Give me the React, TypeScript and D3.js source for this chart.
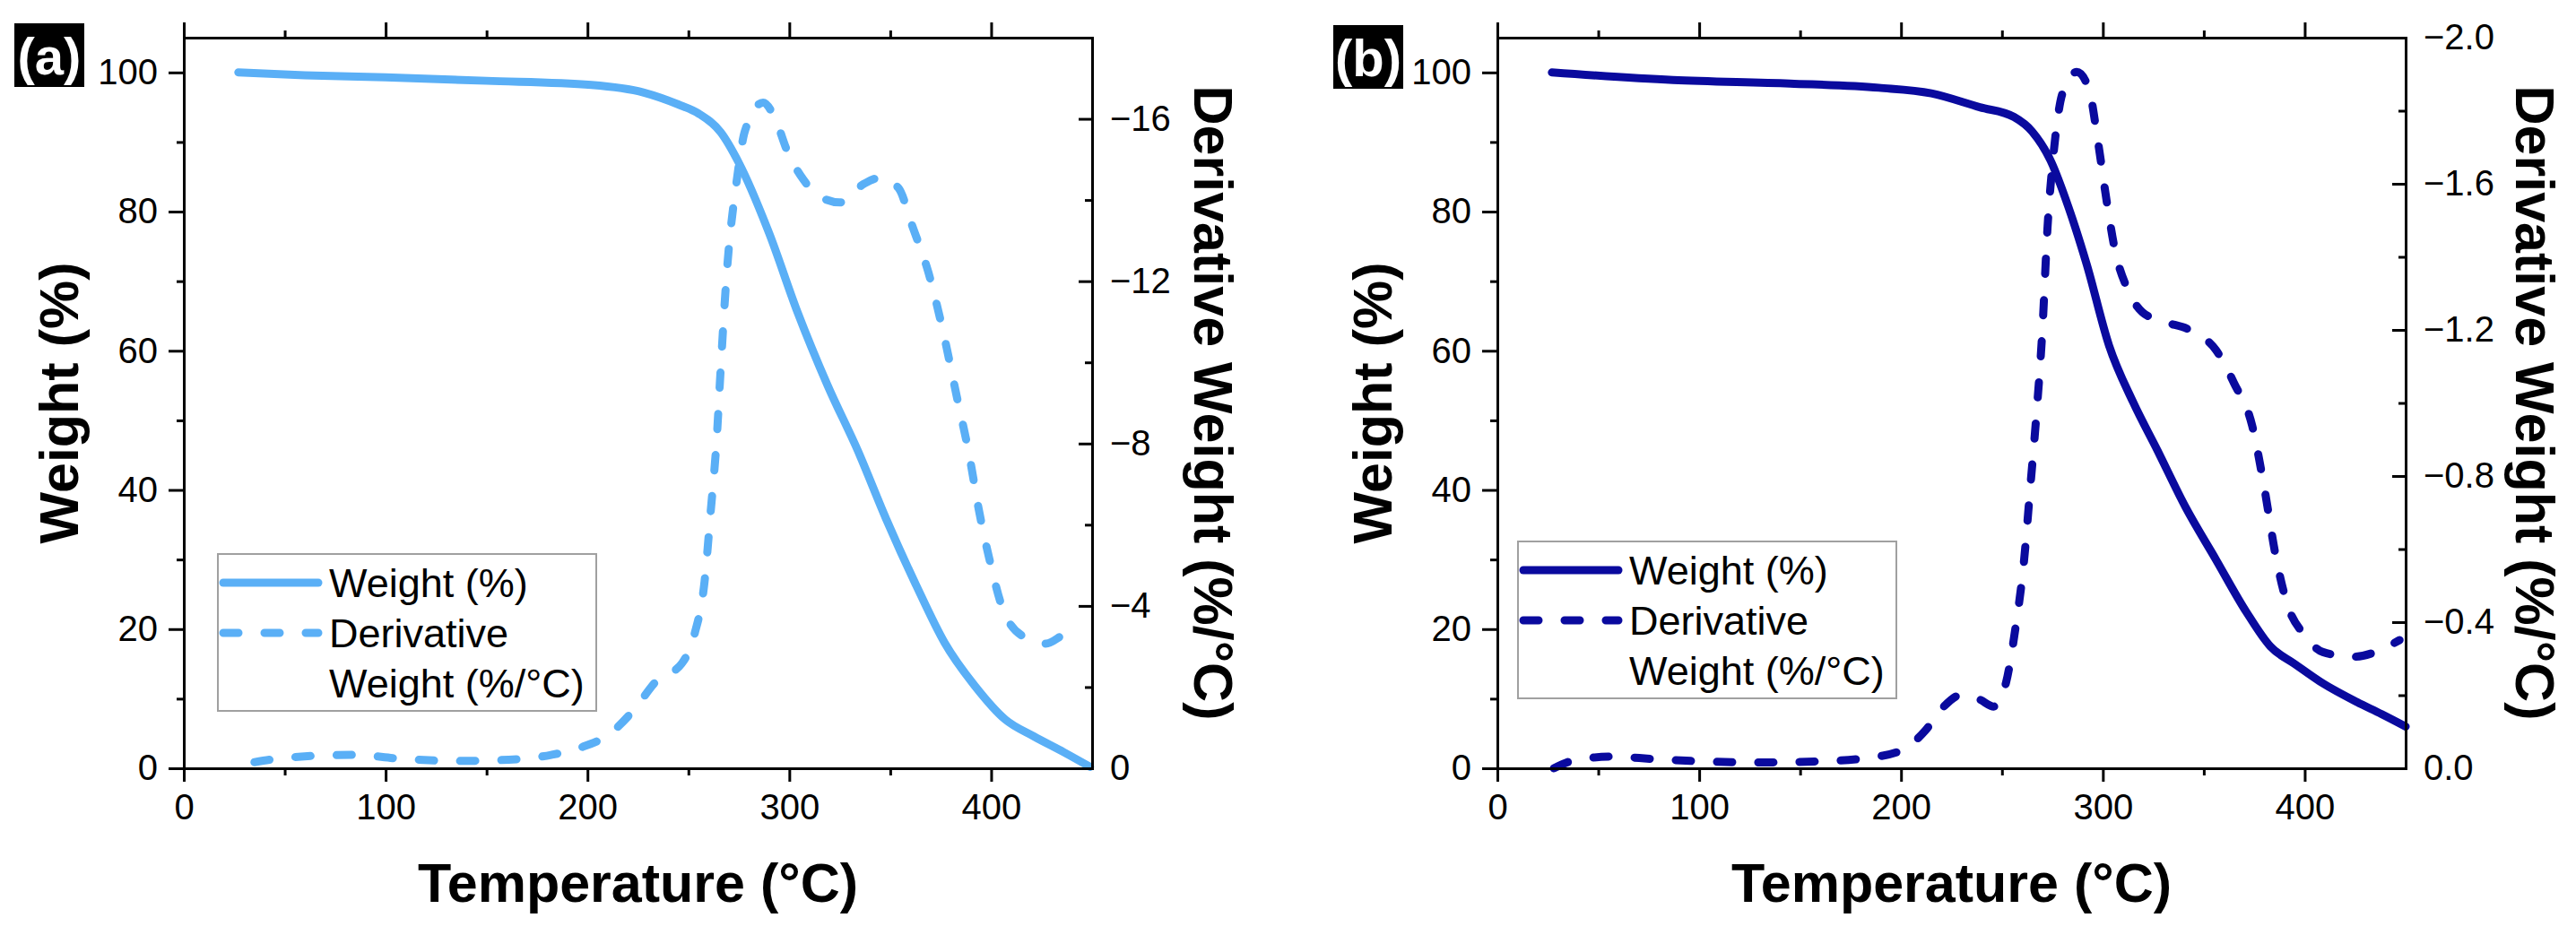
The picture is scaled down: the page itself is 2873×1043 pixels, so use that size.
import React, { useEffect, useRef } from 'react';
import * as d3 from 'd3';

// axis ticks
const tempTicks = [0, 100, 200, 300, 400];
const tempMinor = [50, 150, 250, 350];
const weightTicks = [0, 20, 40, 60, 80, 100];
const weightMinor = [10, 30, 50, 70, 90];
const derivTicksA = [0, -4, -8, -12, -16];
const derivMinorA = [-2, -6, -10, -14];
const derivTicksB = [0, -0.4, -0.8, -1.2, -1.6, -2.0];
const derivMinorB = [-0.2, -0.6, -1.0, -1.4, -1.8];

// panel (a)
const weightTempA = [27, 60, 100, 150, 202, 228, 245, 255, 266, 275, 290, 304, 319, 334, 348, 363, 377, 392, 407, 421, 436, 449];
const weightA = [100, 99.6, 99.3, 98.8, 98.2, 97.1, 95.4, 94.1, 91.4, 87, 76.9, 65.6, 55.0, 45.6, 35.8, 26.2, 18, 11.8, 7.0, 4.6, 2.3, 0.2];
const derivTempA = [35, 53, 85, 106, 135, 161, 182, 196, 211, 223, 234, 247, 253, 258, 261, 264, 266, 269, 274, 278, 287, 293, 299, 307, 316, 325, 337, 345, 354, 361, 369, 376, 383, 389, 394, 399, 407, 418, 427, 436, 444];
const derivA = [-0.15, -0.27, -0.33, -0.24, -0.18, -0.21, -0.33, -0.5, -0.85, -1.44, -2.14, -2.6, -3.3, -4.6, -6.3, -8.1, -9.85, -12.2, -14.5, -15.7, -16.4, -16.0, -15.2, -14.5, -14.06, -13.94, -14.4, -14.55, -14.3, -13.35, -12.2, -10.8, -9.15, -7.75, -6.34, -5.18, -3.77, -3.19, -3.07, -3.3, -3.5];

// panel (b)
const weightTempB = [27, 87, 145, 189, 215, 239, 256, 265, 274, 283, 292, 303, 315, 327, 341, 356, 371, 383, 395, 409, 426, 438, 450];
const weightB = [100, 98.9, 98.4, 97.8, 97, 95, 93.6, 91.5, 87.4, 80.6, 72.4, 60.8, 52.6, 45.7, 37.5, 30, 22.5, 17.5, 15, 12.2, 9.5, 7.8, 6.0];
const derivTempB = [28, 37, 57, 78, 101, 130, 160, 183, 201, 212, 221, 230, 239, 246, 252, 256.5, 261, 264, 267, 270, 272.6, 275.5, 280, 287, 293, 297.5, 302, 306, 312, 319.5, 330, 344, 356, 365, 374, 380, 385.5, 391, 400, 409, 424, 435, 447];
const derivB = [0, -0.02, -0.032, -0.025, -0.019, -0.016, -0.019, -0.028, -0.051, -0.103, -0.168, -0.201, -0.188, -0.169, -0.234, -0.377, -0.572, -0.767, -0.963, -1.197, -1.483, -1.679, -1.848, -1.906, -1.861, -1.718, -1.548, -1.418, -1.314, -1.249, -1.223, -1.197, -1.145, -1.054, -0.937, -0.767, -0.585, -0.455, -0.364, -0.318, -0.305, -0.318, -0.351];

const legendLabels = ['Weight (%)', 'Derivative', 'Weight (%/°C)'];
const FONT = '"Liberation Sans", Arial, Helvetica, sans-serif';

export default function App() {
  const svgRef = useRef<SVGSVGElement>(null);

  useEffect(() => {
    if (!svgRef.current) return;
    const svg = d3.select(svgRef.current);
    svg.selectAll('*').remove();

    const panels = [
      {
        tag: '(a)', left: 205, color: '#5aaff6', tagBox: [16, 26],
        wT: weightTempA, w: weightA, dT: derivTempA, d: derivA,
        dMin: -18, dTicks: derivTicksA, dMinor: derivMinorA, dFmt: d3.format('d'),
        legend: [243, 618], rightTitleX: 1332,
      },
      {
        tag: '(b)', left: 1670, color: '#0a0a9e', tagBox: [1487, 28],
        wT: weightTempB, w: weightB, dT: derivTempB, d: derivB,
        dMin: -2.0, dTicks: derivTicksB, dMinor: derivMinorB, dFmt: d3.format('.1f'),
        legend: [1693, 604], rightTitleX: 2806,
      },
    ];

    const top = 42, bottom = 857, plotW = 1013;

    panels.forEach(p => {
      const x = d3.scaleLinear().domain([0, 450]).range([p.left, p.left + plotW]);
      const y = d3.scaleLinear().domain([0, 105]).range([bottom, top]);
      const y2 = d3.scaleLinear().domain([0, p.dMin]).range([bottom, top]);
      const right = p.left + plotW;

      const g = svg.append('g');

      // curves
      const wLine = d3.line<number>()
        .x((_, i) => x(p.wT[i]))
        .y(d => y(d))
        .curve(d3.curveMonotoneX);
      const dLine = d3.line<number>()
        .x((_, i) => x(p.dT[i]))
        .y(d => y2(d))
        .curve(d3.curveMonotoneX);

      g.append('path')
        .attr('d', dLine(p.d))
        .attr('fill', 'none')
        .attr('stroke', p.color)
        .attr('stroke-width', 9)
        .attr('stroke-linecap', 'round')
        .attr('stroke-dasharray', '17 29');

      g.append('path')
        .attr('d', wLine(p.w))
        .attr('fill', 'none')
        .attr('stroke', p.color)
        .attr('stroke-width', 9)
        .attr('stroke-linecap', 'round')
        .attr('stroke-linejoin', 'round');

      const style = (a: any, noDomain = false) => {
        a.selectAll('.tick line').attr('stroke', '#000').attr('stroke-width', 3);
        a.select('.domain').attr('stroke', '#000').attr('stroke-width', 3).attr('stroke-linecap', 'square');
        if (noDomain) a.select('.domain').remove();
        a.selectAll('text').attr('font-size', 40).attr('font-family', FONT).attr('fill', '#000');
        a.attr('font-family', FONT);
      };

      // left axis
      g.append('g').attr('transform', `translate(${p.left},0)`)
        .call(d3.axisLeft(y).tickValues(weightMinor).tickSize(8).tickFormat(() => ''))
        .call(a => style(a, true));
      g.append('g').attr('transform', `translate(${p.left},0)`)
        .call(d3.axisLeft(y).tickValues(weightTicks).tickSize(17).tickSizeOuter(0).tickPadding(12).tickFormat(d3.format('d')))
        .call(a => style(a));

      // bottom axis
      g.append('g').attr('transform', `translate(0,${bottom})`)
        .call(d3.axisBottom(x).tickValues(tempMinor).tickSize(8).tickFormat(() => ''))
        .call(a => style(a, true));
      g.append('g').attr('transform', `translate(0,${bottom})`)
        .call(d3.axisBottom(x).tickValues(tempTicks).tickSize(15).tickSizeOuter(0).tickPadding(14).tickFormat(d3.format('d')))
        .call(a => style(a));

      // top axis (no labels)
      g.append('g').attr('transform', `translate(0,${top})`)
        .call(d3.axisTop(x).tickValues(tempMinor).tickSize(8).tickFormat(() => ''))
        .call(a => style(a, true));
      g.append('g').attr('transform', `translate(0,${top})`)
        .call(d3.axisTop(x).tickValues(tempTicks).tickSize(17).tickSizeOuter(0).tickFormat(() => ''))
        .call(a => style(a));

      // right axis, ticks inward
      g.append('g').attr('transform', `translate(${right},0)`)
        .call(d3.axisRight(y2).tickValues(p.dMinor).tickSize(-8).tickFormat(() => ''))
        .call(a => style(a, true));
      g.append('g').attr('transform', `translate(${right},0)`)
        .call(d3.axisRight(y2).tickValues(p.dTicks).tickSize(-15).tickSizeOuter(0).tickPadding(20).tickFormat(p.dFmt as any))
        .call(a => style(a));

      // axis titles
      g.append('text')
        .attr('x', (p.left + right) / 2)
        .attr('y', 1006)
        .attr('text-anchor', 'middle')
        .attr('font-family', FONT)
        .attr('font-weight', 'bold')
        .attr('font-size', 61)
        .text('Temperature (°C)');

      g.append('text')
        .attr('transform', `translate(${p.left - 118},${(top + bottom) / 2}) rotate(-90)`)
        .attr('text-anchor', 'middle')
        .attr('font-family', FONT)
        .attr('font-weight', 'bold')
        .attr('font-size', 61)
        .text('Weight (%)');

      g.append('text')
        .attr('transform', `translate(${p.rightTitleX},${(top + bottom) / 2}) rotate(90)`)
        .attr('text-anchor', 'middle')
        .attr('font-family', FONT)
        .attr('font-weight', 'bold')
        .attr('font-size', 61)
        .text('Derivative Weight (%/°C)');

      // panel tag
      g.append('rect')
        .attr('x', p.tagBox[0]).attr('y', p.tagBox[1])
        .attr('width', 78).attr('height', 71)
        .attr('fill', '#000');
      g.append('text')
        .attr('x', p.tagBox[0] + 39).attr('y', p.tagBox[1] + 57)
        .attr('text-anchor', 'middle')
        .attr('font-family', FONT)
        .attr('font-weight', 'bold')
        .attr('font-size', 58)
        .attr('fill', '#fff')
        .text(p.tag);

      // legend
      const [lx, ly] = p.legend;
      const lg = g.append('g').attr('transform', `translate(${lx},${ly})`);
      lg.append('rect')
        .attr('width', 422).attr('height', 175)
        .attr('fill', '#fff')
        .attr('stroke', '#a0a0a0')
        .attr('stroke-width', 2);
      lg.append('line')
        .attr('x1', 6).attr('x2', 112).attr('y1', 32).attr('y2', 32)
        .attr('stroke', p.color).attr('stroke-width', 9).attr('stroke-linecap', 'round');
      lg.append('line')
        .attr('x1', 6).attr('x2', 112).attr('y1', 88).attr('y2', 88)
        .attr('stroke', p.color).attr('stroke-width', 9).attr('stroke-linecap', 'round')
        .attr('stroke-dasharray', '17 29');
      lg.selectAll('text.lab')
        .data(legendLabels)
        .join('text')
        .attr('class', 'lab')
        .attr('x', 124)
        .attr('y', (_, i) => 48 + i * 56)
        .attr('font-family', FONT)
        .attr('font-size', 45)
        .attr('fill', '#000')
        .text(d => d);
    });
  }, []);

  return (
    <svg
      ref={svgRef}
      width={2873}
      height={1043}
      style={{ position: 'absolute', left: 0, top: 0, background: '#fff' }}
    />
  );
}
